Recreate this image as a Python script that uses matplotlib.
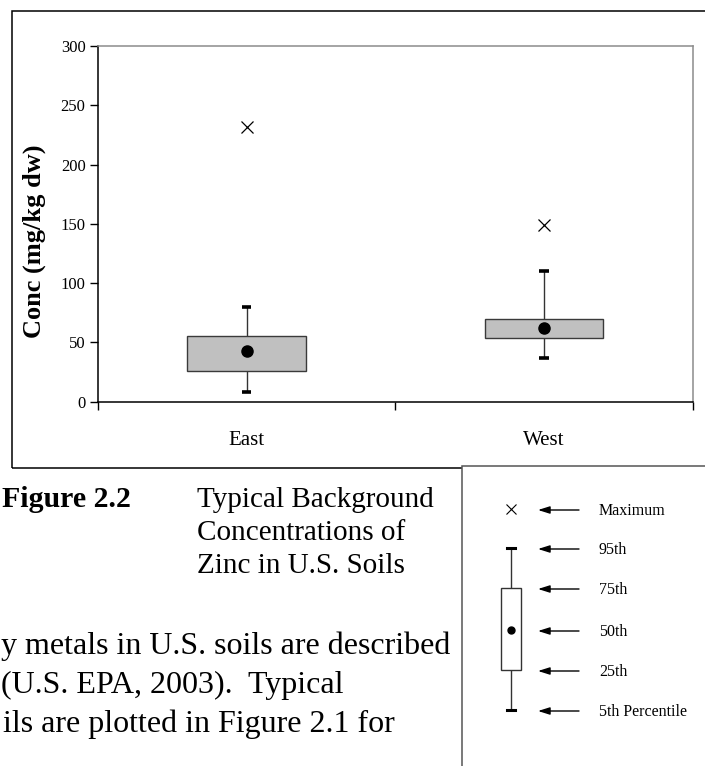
"""Box-and-whisker chart of background zinc concentrations (Figure 2.2 page crop)."""
import matplotlib
matplotlib.use("Agg")
import matplotlib.pyplot as plt
from matplotlib.patches import Rectangle

# ── data (mg/kg dw) ──
regions = ["East", "West"]
p5 = [8, 37]
p25 = [26, 54]
p50 = [43, 62]
p75 = [55, 70]
p95 = [80, 110]
pmax = [232, 149]

y_ticks = [0, 50, 100, 150, 200, 250, 300]

legend_labels = ["Maximum", "95th", "75th", "50th", "25th", "5th Percentile"]

caption_lines = ["Typical Background", "Concentrations of", "Zinc in U.S. Soils"]
body_lines = ["y metals in U.S. soils are described",
              "(U.S. EPA, 2003).  Typical",
              "ils are plotted in Figure 2.1 for"]

SERIF = ["Liberation Serif", "DejaVu Serif"]
plt.rcParams["font.family"] = SERIF

W, H = 705, 766
fig = plt.figure(figsize=(W / 100, H / 100), dpi=100, facecolor="white")


def fx(x):
    return x / W


def fy(y):
    return 1 - y / H


# ── outer chart frame ──
fig.add_artist(Rectangle((fx(11.7), fy(467.7)), fx(730) - fx(11.7),
                         fy(10.7) - fy(467.7), transform=fig.transFigure,
                         fill=False, ec="black", lw=1.1, zorder=1))

# ── main axes ──
ax_left, ax_right = 98, 692.7
ax = fig.add_axes([fx(ax_left), fy(401.7), fx(ax_right) - fx(ax_left), fy(46) - fy(401.7)])
x = list(range(len(regions)))

# whiskers behind the boxes
ax.vlines(x, p5, p95, color="#333333", lw=1.0, zorder=1)
ax.bar(x, [hi - lo for hi, lo in zip(p75, p25)], bottom=p25, width=0.4,
       color="#C0C0C0", edgecolor="#3a3a3a", lw=1.0, zorder=2)
ax.hlines(p95, [i - 0.016 for i in x], [i + 0.016 for i in x],
          color="black", lw=2.6, zorder=3)
ax.hlines(p5, [i - 0.016 for i in x], [i + 0.016 for i in x],
          color="black", lw=2.6, zorder=3)
ax.plot(x, p50, "o", color="black", markersize=8, zorder=4)
ax.plot(x, pmax, "x", color="black", markersize=8, mew=0.9, zorder=4)

ax.set_xlim(-0.5, len(regions) - 0.5)
ax.set_ylim(0, 300)
ax.set_yticks(y_ticks)
ax.set_yticklabels([str(t) for t in y_ticks], fontsize=12)
ax.tick_params(axis="y", direction="out", length=6, width=1, pad=3, color="black")

ax.set_xticks([i - 0.5 for i in range(len(regions) + 1)])
ax.set_xticklabels([])
ax.tick_params(axis="x", which="major", direction="out", length=6, width=1)
ax.set_xticks(x, minor=True)
ax.set_xticklabels(regions, minor=True, fontsize=15)
ax.tick_params(axis="x", which="minor", length=0, pad=21)

for side in ("left", "bottom"):
    ax.spines[side].set_color("black")
    ax.spines[side].set_linewidth(1.1)
for side in ("top", "right"):
    ax.spines[side].set_color("#8c8c8c")
    ax.spines[side].set_linewidth(1.1)

# y label centred at pixel x = 34
ax.text((34 - ax_left) / (ax_right - ax_left), 0.45, "Conc (mg/kg dw)",
        rotation=90, ha="center", va="center", fontsize=19, fontweight="bold",
        transform=ax.transAxes)

# ── legend box (drawn in pixel space) ──
fig.add_artist(Rectangle((fx(462), fy(800)), fx(760) - fx(462), fy(466) - fy(800),
                         transform=fig.transFigure, fc="white", ec="#555555",
                         lw=1.1, zorder=2))
lg = fig.add_axes([fx(462), 0, fx(705) - fx(462), fy(466)], zorder=3)
lg.set_xlim(462, 705)
lg.set_ylim(766, 466)
lg.axis("off")
lg.patch.set_alpha(0)

kx = 511
key_y = [509, 548, 588, 630, 670, 710]
lg.plot([kx, kx], [key_y[1], key_y[5]], color="#333333", lw=1.0, zorder=1)
lg.add_patch(Rectangle((kx - 10, key_y[2]), 20, key_y[4] - key_y[2],
                       fc="white", ec="#333333", lw=1.0, zorder=2))
lg.plot([kx - 4, kx + 4], [key_y[1], key_y[1]], color="black", lw=2.2, zorder=3)
lg.plot([kx - 4, kx + 4], [key_y[5], key_y[5]], color="black", lw=2.2, zorder=3)
lg.plot(kx, key_y[3], "o", color="black", markersize=5, zorder=3)
lg.plot(kx, key_y[0], "x", color="black", markersize=7, mew=0.8, zorder=3)
for yy, lab in zip(key_y, legend_labels):
    lg.annotate("", xy=(538, yy + 1), xytext=(579, yy + 1),
                arrowprops=dict(arrowstyle="-|>,head_length=0.7,head_width=0.22",
                                color="black", lw=1.0, shrinkA=0, shrinkB=0))
    lg.text(599, yy + 2, lab, fontsize=11.5, ha="left", va="center")

# ── caption and body text ──
fig.text(fx(131), fy(507), "Figure 2.2", fontsize=21.5, fontweight="bold",
         ha="right", va="baseline")
for i, line in enumerate(caption_lines):
    fig.text(fx(197), fy(507 + 33 * i), line, fontsize=21, ha="left", va="baseline")

body_x = [1, 1, 3]
for i, line in enumerate(body_lines):
    fig.text(fx(body_x[i]), fy(654 + 39 * i), line, fontsize=23, ha="left",
             va="baseline")

fig.savefig("out.png", dpi=100, facecolor="white")
